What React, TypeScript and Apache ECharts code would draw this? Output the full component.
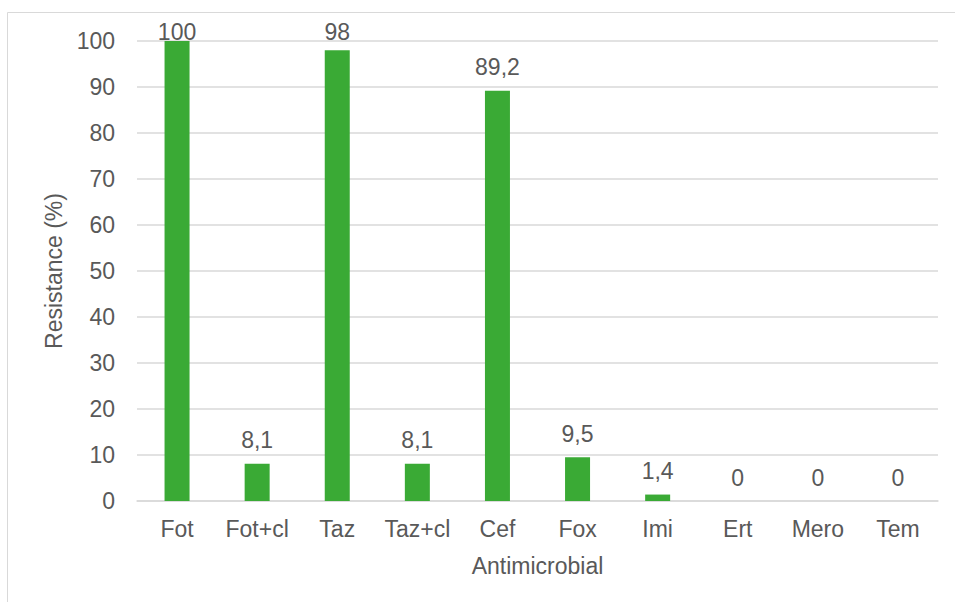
import React, { useEffect, useRef } from "react";
import * as echarts from "echarts";

const categories = ["Fot", "Fot+cl", "Taz", "Taz+cl", "Cef", "Fox", "Imi", "Ert", "Mero", "Tem"];
const resistance = [100, 8.1, 98, 8.1, 89.2, 9.5, 1.4, 0, 0, 0];
const yTicks = [0, 10, 20, 30, 40, 50, 60, 70, 80, 90, 100];

const TEXT = "#595959";
const GRID = "#D9D9D9";
const FONT = "Liberation Sans, Arial, sans-serif";
const FS = 23;
const LABEL_DISTANCE = 12;
// value labels are kept inside the chart frame: their top never goes above this
const LABEL_MIN_TOP = 22;
const LABEL_GLYPH_OFFSET = 21;

export default function App() {
  const ref = useRef<HTMLDivElement>(null);

  useEffect(() => {
    if (!ref.current) return;
    const chart = echarts.init(ref.current, undefined, { renderer: "svg" });
    const label = {
      show: true,
      position: "top",
      distance: LABEL_DISTANCE,
      color: TEXT,
      fontSize: FS,
      fontFamily: FONT,
      formatter: (p: any) => String(p.value).replace(".", ","),
    };
    chart.setOption({
      animation: false,
      backgroundColor: "#ffffff",
      textStyle: { fontFamily: FONT },
      graphic: [
        {
          type: "rect",
          shape: { x: 7.5, y: 12.5, width: 960, height: 600 },
          style: { fill: "none", stroke: GRID, lineWidth: 1 },
          silent: true,
        },
      ],
      grid: { left: 137, right: 17, top: 41, bottom: 101 },
      xAxis: {
        type: "category",
        data: categories,
        name: "Antimicrobial",
        nameLocation: "middle",
        nameGap: 53,
        nameTextStyle: { color: TEXT, fontSize: FS, fontFamily: FONT },
        axisLine: { show: true, lineStyle: { color: GRID, width: 1.5 } },
        axisTick: { show: false },
        axisLabel: { color: TEXT, fontSize: FS, margin: 16, interval: 0, fontFamily: FONT },
      },
      yAxis: {
        type: "value",
        min: yTicks[0],
        max: yTicks[yTicks.length - 1],
        interval: 10,
        name: "Resistance (%)",
        nameLocation: "middle",
        nameGap: 70,
        nameRotate: 90,
        nameTextStyle: { color: TEXT, fontSize: FS, fontFamily: FONT },
        axisLine: { show: false },
        axisTick: { show: false },
        axisLabel: { color: TEXT, fontSize: FS, margin: 22, fontFamily: FONT },
        splitLine: { lineStyle: { color: GRID, width: 1.5 } },
      },
      series: [
        {
          type: "bar",
          data: resistance,
          barWidth: 25,
          itemStyle: { color: "#3AAA35" },
          label,
        },
      ],
    });

    // Pull down labels of the tallest bars so they stay within the frame.
    const data = resistance.map((v) => {
      const top = chart.convertToPixel({ yAxisIndex: 0 }, v) as number;
      const d = Math.min(LABEL_DISTANCE, top - LABEL_GLYPH_OFFSET - LABEL_MIN_TOP);
      return d < LABEL_DISTANCE ? { value: v, label: { distance: d } } : v;
    });
    chart.setOption({ series: [{ data }] });

    return () => chart.dispose();
  }, []);

  return (
    <div
      ref={ref}
      style={{ position: "absolute", left: 0, top: 0, width: 955, height: 602 }}
    />
  );
}
